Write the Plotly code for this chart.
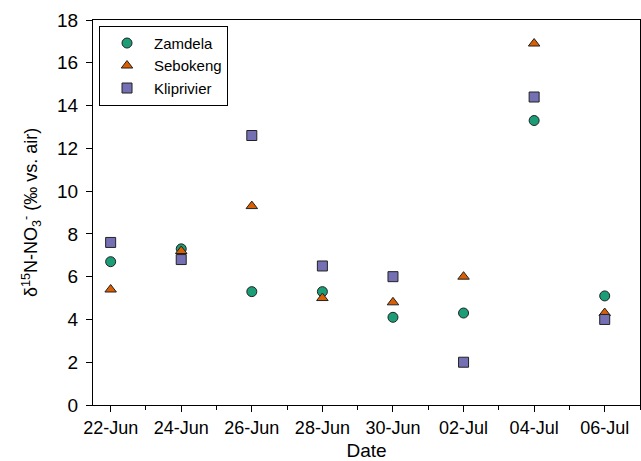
import plotly.graph_objects as go

dates = ["2014-06-22", "2014-06-24", "2014-06-26", "2014-06-28",
         "2014-06-30", "2014-07-02", "2014-07-04", "2014-07-06"]
zamdela = [6.7, 7.3, 5.3, 5.3, 4.1, 4.3, 13.3, 5.1]
sebokeng = [5.4, 7.2, 9.3, 5.0, 4.8, 6.0, 16.9, 4.3]
kliprivier = [7.6, 6.8, 12.6, 6.5, 6.0, 2.0, 14.4, 4.0]

series = [
    ("Zamdela", zamdela, "circle", "#1b9e77"),
    ("Sebokeng", sebokeng, "triangle-up", "#d95f02"),
    ("Kliprivier", kliprivier, "square", "#7570b3"),
]

fig = go.Figure()
for name, vals, sym, col in series:
    fig.add_trace(go.Scatter(
        x=dates, y=vals, mode="markers", name=name,
        marker=dict(symbol=sym, size=10, color=col,
                    line=dict(color="#222222", width=1)),
    ))

font = "Liberation Sans, Arial, sans-serif"
fig.update_layout(
    width=641, height=461,
    margin=dict(l=93, r=1, t=20, b=56),
    plot_bgcolor="white", paper_bgcolor="white",
    font=dict(family=font, color="black", size=16),
    showlegend=True,
    legend=dict(x=0.011, y=0.985, xanchor="left", yanchor="top",
                bordercolor="black", borderwidth=1, bgcolor="white",
                font=dict(size=15), itemwidth=44),
    xaxis=dict(
        type="date", automargin=False,
        range=["2014-06-21 12:00", "2014-07-07 00:00"],
        tick0="2014-06-22", dtick=2 * 86400000,
        tickformat="%d-%b",
        ticks="outside", ticklen=6, tickcolor="black",
        minor=dict(dtick=86400000, ticks="outside", ticklen=4, tickcolor="black"),
        showline=True, linecolor="black", linewidth=1, mirror=True,
        showgrid=False, zeroline=False,
        title=dict(text="Date", font=dict(size=19), standoff=8),
        tickfont=dict(size=18),
    ),
    yaxis=dict(
        automargin=False,
        range=[0, 18], dtick=2,
        ticks="outside", ticklen=6, tickcolor="black",
        ticklabelstandoff=4,
        showline=True, linecolor="black", linewidth=1, mirror=True,
        showgrid=False, zeroline=False,
        title=dict(text="δ<sup>15</sup>N-NO<sub>3</sub><sup>-</sup> (‰ vs. air)",
                   font=dict(size=18), standoff=14),
        tickfont=dict(size=19),
    ),
)

fig.write_html("out.html", config={"displayModeBar": False},
               post_script="document.body.style.margin='0';")
